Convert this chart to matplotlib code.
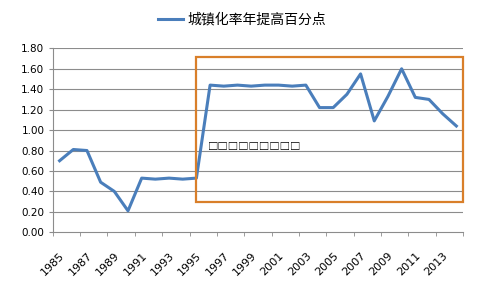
import matplotlib
matplotlib.use("Agg")
import matplotlib.pyplot as plt
from matplotlib.patches import Rectangle

plt.rcParams['font.family'] = ['Noto Sans CJK SC', 'DejaVu Sans']

years = list(range(1985, 2015))
values = [0.70, 0.81, 0.80, 0.49, 0.40, 0.21, 0.53, 0.52, 0.53, 0.52,
          0.53, 1.44, 1.43, 1.44, 1.43, 1.44, 1.44, 1.43, 1.44, 1.22,
          1.22, 1.35, 1.55, 1.09, 1.33, 1.60, 1.32, 1.30, 1.16, 1.04]
series_name = "城镇化率年提高百分点"
box_text = "□□□□□□□□□"
y_ticks = [0.0, 0.2, 0.4, 0.6, 0.8, 1.0, 1.2, 1.4, 1.6, 1.8]

fig = plt.figure(figsize=(4.84, 2.92), dpi=100)
ax = fig.add_axes([0.109, 0.2045, 0.848, 0.630])

idx = list(range(len(years)))
for y in y_ticks[1:]:
    ax.axhline(y, color="#8c8c8c", lw=0.8, zorder=1)
ax.plot(idx, values, color="#4a7ebb", lw=2.2, solid_joinstyle="round",
        label=series_name, zorder=3)

ax.set_xlim(-0.5, len(years) - 0.5)
ax.set_ylim(0, 1.8)
ax.set_yticks(y_ticks)
ax.set_yticklabels([f"{v:.2f}" for v in y_ticks], fontsize=7.5, family="DejaVu Sans")

ax.set_xticks(idx[::2])
ax.set_xticklabels([str(y) for y in years[::2]], rotation=45, ha="right",
                   rotation_mode="anchor", fontsize=8, family="DejaVu Sans")
ax.set_xticks([i - 0.5 for i in range(0, len(years) + 1, 2)], minor=True)
ax.tick_params(axis="x", which="major", length=0, pad=13)
ax.tick_params(axis="x", which="minor", length=3, color="#8c8c8c")
ax.tick_params(axis="y", length=3, color="#8c8c8c", pad=3)

for side in ["top", "right"]:
    ax.spines[side].set_visible(False)
for side in ["left", "bottom"]:
    ax.spines[side].set_color("#8c8c8c")
    ax.spines[side].set_linewidth(0.8)

# highlighted period
ax.add_patch(Rectangle((10.0, 0.30), 19.47, 1.42, fill=False,
                       edgecolor="#d97f2a", lw=1.6, zorder=4, clip_on=False))
ax.text(10.85, 0.83, box_text, fontsize=7.5, va="center", ha="left",
        fontweight="bold", family=["Noto Sans CJK SC", "DejaVu Sans"], zorder=5)

fig.legend(loc="upper center", bbox_to_anchor=(0.5, 1.0), frameon=False,
           fontsize=10, handlelength=1.8, handletextpad=0.3)

fig.savefig("out.png", dpi=100)
